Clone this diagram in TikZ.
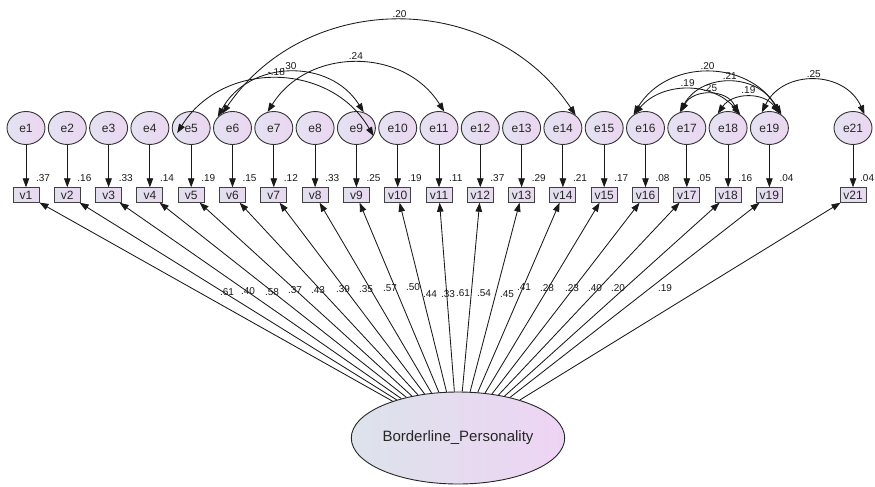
\documentclass[tikz,border=0pt]{standalone}
\usepackage{fontspec}
\setmainfont{Liberation Sans}
\usetikzlibrary{arrows.meta,calc,shapes.geometric}
\definecolor{circA}{HTML}{E4E2F2}
\definecolor{circB}{HTML}{EBD6F0}
\definecolor{boxA}{HTML}{E2E0EE}
\definecolor{boxB}{HTML}{E8D8F0}
\definecolor{latA}{HTML}{DCE3EB}
\definecolor{latB}{HTML}{EED4F4}
\begin{document}
\begin{tikzpicture}[x=1pt,y=1pt,
  arr/.style={-{Triangle[length=9pt,width=6.5pt]}, line width=0.85pt, draw=black!90},
  cov/.style={{Triangle[length=9pt,width=6.5pt]}-{Triangle[length=9pt,width=6.5pt]}, line width=0.85pt, draw=black!90},
  errnode/.style={ellipse, draw=black!80, line width=0.9pt, minimum width=38pt, minimum height=33pt, inner sep=0pt, left color=circA, right color=circB, font=\fontsize{12}{12}\selectfont, text=black!85},
  obsnode/.style={rectangle, draw=black!75, line width=0.9pt, minimum width=26pt, minimum height=14.5pt, inner sep=1pt, left color=boxA, right color=boxB, font=\fontsize{12}{12}\selectfont, text=black!85},
  latnode/.style={ellipse, draw=black!85, line width=0.9pt, minimum width=210pt, minimum height=92pt, inner sep=0pt, left color=latA, right color=latB, font=\fontsize{15}{16}\selectfont, text=black!85},
  num/.style={font=\fontsize{10}{10}\selectfont, text=black!90, inner sep=0.5pt}
]
\useasboundingbox (0,0) rectangle (875,-487);

% latent variable
\node[latnode] (F) at (458,-438) {Borderline\_Personality};

% error terms, observed variables, variances
\foreach \i/\x/\r/\dx in {1/26/.37/-4, 2/67.3/.16/-4, 3/108.6/.33/-4, 4/149.9/.14/-4, 5/191.2/.19/-4,
  6/232.5/.15/-4, 7/273.8/.12/-4, 8/315.1/.33/-4, 9/356.4/.25/-4, 10/397.7/.19/-4, 11/439/.11/-4,
  12/480.3/.37/-4, 13/521.6/.29/-4, 14/562.9/.21/-4, 15/604.2/.17/-4, 16/645.5/.08/-4,
  17/686.8/.05/-4, 18/728.1/.16/-4, 19/769.4/.04/-4, 21/853/.04/-7} {
  \node[errnode] (e\i) at (\x,-128) {e\i};
  \node[obsnode] (v\i) at (\x,-195) {v\i};
  \draw[arr] (e\i) -- (v\i);
  \node[num, anchor=west] (r\i) at ($(v\i.north east)+(\dx,9.5)$) {\r};
  \draw[arr] (F) -- (v\i);
}

% loading labels
\foreach \i/\lx/\ly/\t in {1/227/292/.61, 2/248/291/.40, 3/272/292/.58, 4/295/290/.37,
  5/318/290/.43, 6/343/289/.39, 7/366/289/.35, 8/390/288/.57, 9/413/287/.50,
  10/430/294/.44, 11/448/294/.33, 12/463/293/.61, 13/484/293/.54, 14/507/294/.45,
  15/524/287/.41, 16/547/288/.28, 17/572/288/.23, 18/595/288/.40, 19/618/288/.20,
  21/665/288/.19} {
  \node[num] (l\i) at (\lx,-\ly) {\t};
}

% covariances, left group
\draw[cov] (e6.125) to[bend left=56, looseness=1.09] node[num, midway, above=2.5pt] (c1) {.20} (e14.45);
\draw[cov] (e7.111) to[bend left=58, looseness=1.11] node[num, midway, above=2.5pt] (c2) {.24} (e11.72);
\draw[cov] (e6.143) to[bend left=60, looseness=1.13] node[num, midway, above=2.5pt] (c3) {.30} (e9.65);
\draw[cov] ($(e5)+(-14,-5)$) to[bend left=59, looseness=1.12] node[num, midway, above=2.5pt] (c4) {-.18} (e9.-25);

% covariances, right group
\draw[cov] (e16.132) to[bend left=59, looseness=1.13] node[num, midway, above=2.5pt] (c5) {.20} (e19.48);
\draw[cov] (e17.114) to[bend left=62, looseness=1.17] node[num, midway, above=2.5pt] (c6) {.21} (e19.57);
\draw[cov] (e16.128) to[bend left=50, looseness=1.04] node[num, midway, above=2.5pt] (c7) {.19} (e18.47);
\draw[cov] (e17.110) to[bend left=64, looseness=1.19] node[num, midway, above=2.5pt] (c8) {.25} (e18.55);
\draw[cov] (e18.126) to[bend left=55, looseness=1.09] node[num, midway, above=2.5pt] (c9) {.19} (e19.56);
\draw[cov] (e19.116) to[bend left=65, looseness=1.2] node[num, midway, above=2.5pt] (c10) {.25} (e21.50);
\end{tikzpicture}
\end{document}
